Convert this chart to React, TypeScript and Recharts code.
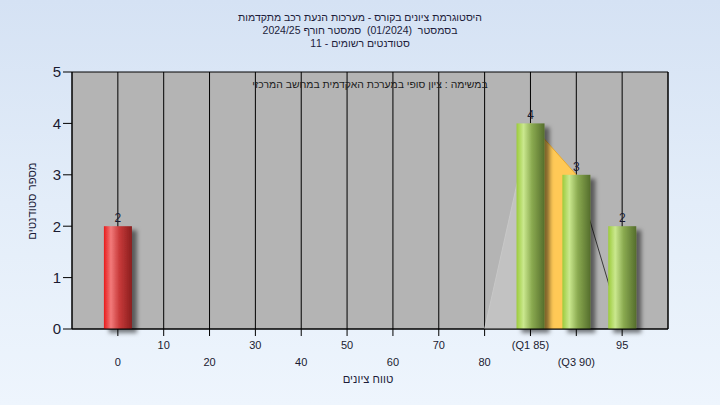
import React from 'react';
import { ComposedChart, Bar, Area, XAxis, YAxis, CartesianGrid, LabelList } from 'recharts';

const titleLines = [
  'היסטוגרמת ציונים בקורס - מערכות הנעת רכב מתקדמות',
  'בסמסטר  (01/2024)  סמסטר חורף 2024/25',
  'סטודנטים רשומים - 11',
];
const caption = 'במשימה : ציון סופי במערכת האקדמית במחשב המרכזי';
const xTitle = 'טווח ציונים';
const yTitle = 'מספר סטודנטים';

const binLabels = ['0', '10', '20', '30', '40', '50', '60', '70', '80', '(Q1 85)', '(Q3 90)', '95'];
const binCounts = [2, 0, 0, 0, 0, 0, 0, 0, 0, 4, 3, 2];
const failBins = [0];
const greyRise: (number | null)[] = [null, null, null, null, null, null, null, null, 0, 4, null, null];
const orangeBand: (number | null)[] = [null, null, null, null, null, null, null, null, null, 4, 3, null];
const tailLine: (number | null)[] = [null, null, null, null, null, null, null, null, null, null, 3, 0];
const yTicks = [0, 1, 2, 3, 4, 5];

const data = binLabels.map((label, i) => ({
  x: i,
  label,
  count: binCounts[i] > 0 ? binCounts[i] : null,
  grey: greyRise[i],
  orange: orangeBand[i],
  tail: tailLine[i],
}));

const FONT = '"Liberation Sans", "DejaVu Sans", Arial, sans-serif';

const XTick = (props: any) => {
  const { x, payload } = props;
  const i = payload.value as number;
  const upper = i % 2 === 1;
  return (
    <text x={x} y={upper ? 349 : 366} textAnchor="middle" fontSize={11} fill="#1a1a30" fontFamily={FONT}>
      {binLabels[i]}
    </text>
  );
};

const BarShape = (props: any) => {
  const { x, y, width, height, payload } = props;
  if (!height || height <= 0) return null;
  const fail = failBins.includes(payload.x);
  return (
    <rect
      x={x}
      y={y}
      width={width}
      height={height}
      fill={fail ? 'url(#redGrad)' : 'url(#greenGrad)'}
      filter="url(#barShadow)"
    />
  );
};

export default function App() {
  return (
    <div
      style={{
        position: 'absolute',
        left: 0,
        top: 0,
        width: 720,
        height: 405,
        background: 'linear-gradient(to bottom, #d5e2f4 0%, #e3edf9 50%, #eef5fd 100%)',
        fontFamily: FONT,
        overflow: 'hidden',
      }}
    >
      <div style={{ position: 'absolute', left: 0, top: 11, width: 720, fontSize: 10.5, lineHeight: '13px', color: '#1c1c3a', textAlign: 'center', direction: 'rtl' }}>
        {titleLines.map((t, i) => (
          <div key={i} style={{ whiteSpace: 'pre' }}>{t}</div>
        ))}
      </div>
      <ComposedChart
        width={720}
        height={405}
        data={data}
        margin={{ top: 72, right: 0, bottom: 0, left: 0 }}
        style={{ position: 'absolute', left: 0, top: 0 }}
      >
        <defs>
          <linearGradient id="redGrad" x1="0" y1="0" x2="1" y2="0">
            <stop offset="0%" stopColor="#e81c1c" />
            <stop offset="25%" stopColor="#f27a7a" />
            <stop offset="55%" stopColor="#c83a3a" />
            <stop offset="100%" stopColor="#8a1e1e" />
          </linearGradient>
          <linearGradient id="greenGrad" x1="0" y1="0" x2="1" y2="0">
            <stop offset="0%" stopColor="#9ccb3c" />
            <stop offset="25%" stopColor="#cae88e" />
            <stop offset="55%" stopColor="#8aaa50" />
            <stop offset="100%" stopColor="#556e2c" />
          </linearGradient>
          <filter id="barShadow" x="-30%" y="-10%" width="170%" height="130%">
            <feDropShadow dx="5" dy="4" stdDeviation="2.2" floodColor="#000" floodOpacity="0.5" />
          </filter>
        </defs>
        <CartesianGrid stroke="#000" strokeWidth={1} fill="#b4b4b4" fillOpacity={1} />
        <XAxis
          dataKey="x"
          type="number"
          domain={[-1, 12]}
          ticks={binLabels.map((_, i) => i)}
          interval={0}
          height={76}
          axisLine={{ stroke: '#000' }}
          tickLine={{ stroke: '#000' }}
          tickSize={7}
          tick={<XTick />}
        />
        <YAxis
          yAxisId="left"
          orientation="left"
          domain={[0, 5]}
          ticks={yTicks}
          width={72}
          axisLine={{ stroke: '#000' }}
          tickLine={{ stroke: '#000' }}
          tickSize={9}
          tick={{ fontSize: 15, fill: '#1a1a30', fontFamily: FONT }}
          tickMargin={2}
        />
        <YAxis
          yAxisId="right"
          orientation="right"
          domain={[0, 5]}
          ticks={yTicks}
          width={52}
          axisLine={{ stroke: '#000' }}
          tickLine={{ stroke: '#000' }}
          tickSize={9}
          tick={{ fontSize: 15, fill: '#1a1a30', fontFamily: FONT }}
          tickMargin={2}
        />
        <Area yAxisId="left" dataKey="grey" type="linear" stroke="#c8c8c8" strokeWidth={1} fill="#c2c2c2" fillOpacity={1} isAnimationActive={false} dot={false} activeDot={false} />
        <Area yAxisId="left" dataKey="orange" type="linear" stroke="#e8a830" strokeWidth={1} fill="#ffc956" fillOpacity={1} isAnimationActive={false} dot={false} activeDot={false} />
        <Area yAxisId="left" dataKey="tail" type="linear" stroke="#3a3a3a" strokeWidth={1} fill="none" fillOpacity={0} isAnimationActive={false} dot={false} activeDot={false} />
        <Bar yAxisId="left" dataKey="count" barSize={28} shape={<BarShape />} isAnimationActive={false}>
          <LabelList dataKey="count" position="top" offset={4} fontSize={12} fill="#1a1a30" fontFamily={FONT} />
        </Bar>
      </ComposedChart>
      <div style={{ position: 'absolute', left: 0, top: 79, width: 740, fontSize: 10.4, color: '#1c1c1c', textAlign: 'center', direction: 'rtl', whiteSpace: 'pre' }}>
        {caption}
      </div>
      <div style={{ position: 'absolute', left: 268, top: 373, width: 200, fontSize: 11.3, color: '#1c1c3a', textAlign: 'center', direction: 'rtl', whiteSpace: 'pre' }}>
        {xTitle}
      </div>
      <div
        style={{
          position: 'absolute',
          left: -18,
          top: 194,
          width: 100,
          fontSize: 11.3,
          lineHeight: '14px',
          color: '#1c1c3a',
          textAlign: 'center',
          direction: 'rtl',
          whiteSpace: 'pre',
          transform: 'rotate(-90deg)',
        }}
      >
        {yTitle}
      </div>
    </div>
  );
}
